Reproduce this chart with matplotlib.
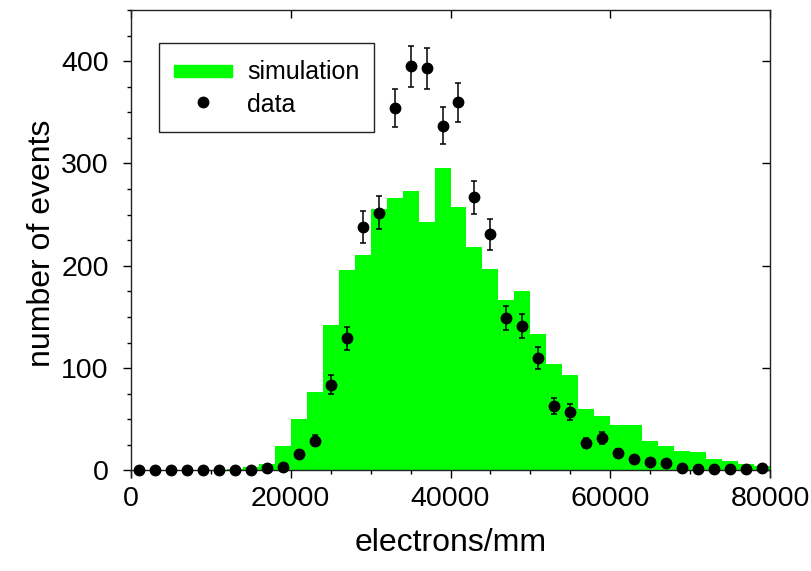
import numpy as np
import matplotlib.pyplot as plt
from matplotlib.patches import Patch, Rectangle
from matplotlib.lines import Line2D
from matplotlib.legend_handler import HandlerPatch

plt.rcParams['font.family'] = ['Liberation Sans', 'DejaVu Sans']

# bin edges of the histogram (electrons/mm), 2000 wide
bin_lo = 0
bin_hi = 80000
bin_w = 2000

# simulation counts per bin
sim = [0, 0, 0, 0, 0, 0, 1, 3, 6, 24,
       50, 77, 142, 196, 211, 256, 266, 273, 243, 296,
       257, 218, 197, 167, 175, 133, 104, 93, 60, 53,
       44, 44, 29, 24, 19, 18, 11, 9, 6, 4]

# measured counts per bin
data = [0, 0, 0, 0, 0, 0, 0, 0, 2, 3,
        16, 29, 84, 129, 238, 252, 354, 395, 393, 337,
        360, 267, 231, 149, 141, 110, 63, 57, 27, 32,
        17, 11, 8, 7, 2, 1, 1, 1, 1, 2]

edges = np.arange(bin_lo, bin_hi + bin_w, bin_w)
centers = (edges[:-1] + edges[1:]) / 2
data = np.array(data)
err = np.sqrt(data)

fig = plt.figure(figsize=(8.12, 5.71), dpi=100)
ax = fig.add_axes([131/812, 1 - 476.6/571, 639/812, 466.6/571])

ax.stairs(sim, edges, fill=True, color='#00ff00', zorder=1)
ax.errorbar(centers, data, yerr=err, fmt='none', ecolor='black',
            elinewidth=1.1, capsize=2, capthick=1.1, zorder=2)
ax.plot(centers, data, 'o', color='black', ms=7.5, zorder=3)

ax.set_xlim(0, 80000)
ax.set_ylim(-6, 450)
ax.spines['bottom'].set_position(('data', 0))
for s in ax.spines.values():
    s.set_linewidth(1.0)
    s.set_color('#222222')

ax.set_xticks(np.arange(0, 80001, 20000))
ax.set_xticks(np.arange(0, 80001, 5000), minor=True)
ax.set_yticks(np.arange(0, 401, 100))
ax.set_yticks(np.arange(0, 451, 25), minor=True)
ax.tick_params(which='major', direction='out', length=6, width=1, labelsize=20.5, pad=5)
ax.tick_params(which='minor', direction='out', length=3, width=1)
ax.tick_params(axis='y', which='major', pad=10)

top = ax.secondary_xaxis('top')
top.set_xticks(np.arange(0, 80001, 20000))
top.tick_params(direction='in', length=6, width=1, labeltop=False)
top.spines['top'].set_visible(False)
right = ax.secondary_yaxis('right')
right.set_yticks(np.arange(0, 401, 100))
right.tick_params(direction='in', length=6, width=1, labelright=False)
right.spines['right'].set_visible(False)

ax.set_xlabel('electrons/mm', fontsize=23, labelpad=12)
ax.set_ylabel('number of events', fontsize=23, labelpad=3)


# flat green bar for the simulation entry
def flat_patch(legend, orig_handle, xdescent, ydescent, width, height, fontsize):
    h = 0.48 * fontsize
    return Rectangle((-xdescent, -ydescent + (height - h) / 2), width, h)


handles = [Patch(color='#00ff00', label='simulation'),
           Line2D([], [], marker='o', ls='none', color='black', ms=7.5, label='data')]
leg = ax.legend(handles=handles, loc='upper left', bbox_to_anchor=(0.044, 0.929),
                borderaxespad=0, fontsize=18, fancybox=False, framealpha=1,
                edgecolor='#222222', handlelength=2.3, handleheight=1.15,
                handletextpad=0.62, labelspacing=0.3, borderpad=0.6,
                handler_map={Patch: HandlerPatch(patch_func=flat_patch)})
leg.get_frame().set_linewidth(1.0)

fig.savefig('out.png', dpi=100)
